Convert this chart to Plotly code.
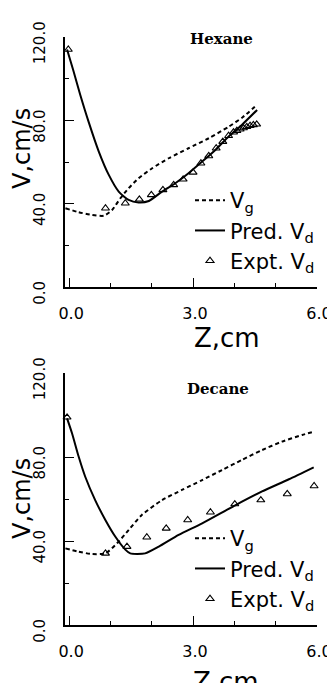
import plotly.graph_objects as go

# ---------------- data ----------------
# Hexane panel
hex_vg_z = [-0.09, 0.23, 0.55, 0.84, 1.04, 1.24, 1.44, 1.68, 2.01, 2.41, 2.89, 3.38, 3.86, 4.20, 4.55]
hex_vg_v = [37.8, 35.9, 34.6, 34.2, 37.0, 42.6, 47.4, 52.2, 57.0, 61.8, 66.6, 71.4, 76.9, 81.5, 87.5]

hex_pred_z = [-0.05, 0.10, 0.27, 0.47, 0.72, 0.96, 1.20, 1.44, 1.68, 1.93, 2.25, 2.57, 2.89, 3.22, 3.54, 3.86, 4.18, 4.55]
hex_pred_v = [114.0, 104.0, 92.2, 79.4, 64.9, 53.8, 45.8, 41.8, 40.6, 41.3, 45.8, 49.8, 54.6, 60.2, 65.8, 72.2, 77.8, 85.0]

hex_expt_z = [-0.02, 0.88, 1.36, 1.70, 1.99, 2.27, 2.53, 2.76, 3.00, 3.19, 3.38, 3.56, 3.72, 3.86,
              3.98, 4.06, 4.14, 4.22, 4.30, 4.38, 4.46, 4.54]
hex_expt_v = [114.0, 37.8, 40.2, 42.1, 44.2, 46.6, 49.0, 51.7, 55.0, 59.4, 62.9, 66.6, 69.8, 72.6,
              74.3, 75.0, 75.7, 76.3, 76.9, 77.4, 77.8, 78.1]

# Decane panel
dec_vg_z = [-0.09, 0.23, 0.55, 0.88, 1.16, 1.44, 1.76, 2.25, 2.73, 3.22, 3.70, 4.18, 4.67, 5.15, 5.64, 5.92]
dec_vg_v = [36.5, 34.9, 33.8, 34.1, 38.9, 45.2, 52.4, 59.5, 64.3, 69.0, 73.8, 78.6, 83.3, 87.3, 90.5, 92.0]

dec_pred_z = [-0.05, 0.07, 0.23, 0.39, 0.63, 0.88, 1.12, 1.36, 1.48, 1.84, 2.17, 2.65, 3.22, 4.02, 4.67, 5.32, 5.92]
dec_pred_v = [98.4, 91.3, 80.2, 70.6, 59.5, 49.9, 42.0, 35.9, 34.1, 34.1, 37.3, 42.9, 48.4, 57.0, 63.6, 69.4, 75.1]

dec_expt_z = [-0.05, 0.88, 1.40, 1.88, 2.35, 2.87, 3.42, 4.01, 4.64, 5.28, 5.93]
dec_expt_v = [98.9, 34.1, 37.3, 41.8, 46.0, 50.0, 53.7, 57.6, 59.5, 62.4, 66.2]

panel_titles = ["Hexane", "Decane"]
series_names = ["V<sub>g</sub>", "Pred. V<sub>d</sub>", "Expt. V<sub>d</sub>"]
x_title = "Z,cm"
y_title = "V,cm/s"
x_ticks = [0.0, 3.0, 6.0]
y_ticks = [0.0, 40.0, 80.0, 120.0]

# ---------------- figure ----------------
W, H = 335, 683
OFF = 8  # the page body adds an 8px margin; positions below are given in window pixels


def px(x):
    return (x - OFF) / W


def py(y):
    return 1 - (y - OFF) / H


fig = go.Figure()

panels = [
    (hex_vg_z, hex_vg_v, hex_pred_z, hex_pred_v, hex_expt_z, hex_expt_v, "x", "y", "legend"),
    (dec_vg_z, dec_vg_v, dec_pred_z, dec_pred_v, dec_expt_z, dec_expt_v, "x2", "y2", "legend2"),
]

for (gz, gv, pz, pv, ez, ev, xa, ya, lg) in panels:
    fig.add_trace(go.Scatter(
        x=gz, y=gv, mode="lines", name=series_names[0], legend=lg,
        xaxis=xa, yaxis=ya,
        line=dict(color="black", width=2, dash="4px,3px", shape="spline", smoothing=0.6),
    ))
    fig.add_trace(go.Scatter(
        x=pz, y=pv, mode="lines", name=series_names[1], legend=lg,
        xaxis=xa, yaxis=ya,
        line=dict(color="black", width=2, shape="spline", smoothing=0.6),
    ))
    fig.add_trace(go.Scatter(
        x=ez, y=ev, mode="markers", name=series_names[2], legend=lg,
        xaxis=xa, yaxis=ya, cliponaxis=False,
        marker=dict(symbol="triangle-up-open", size=7, color="black", line=dict(color="black", width=1.1)),
    ))

tickfont_x = dict(family="DejaVu Sans", size=16, color="black")
tickfont_y = dict(family="DejaVu Sans", size=15, color="black")


def xaxis(domain, anchor):
    return dict(
        domain=domain, anchor=anchor, range=[-0.1, 6.0],
        showline=True, linecolor="black", linewidth=1.5,
        showgrid=False, zeroline=False,
        tickmode="array", tickvals=x_ticks, ticktext=[f"{t:.1f}" for t in x_ticks],
        ticks="inside", ticklen=9, tickwidth=1.2, tickcolor="black",
        minor=dict(ticks="inside", ticklen=4, tickwidth=1, tickcolor="black", tickmode="linear", tick0=0, dtick=1),
        tickfont=tickfont_x, ticklabelstandoff=11, ticklabelshift=2, fixedrange=True, automargin=False,
    )


def yaxis(domain, anchor):
    return dict(
        domain=domain, anchor=anchor, range=[0, 120],
        showline=True, linecolor="black", linewidth=1.5,
        showgrid=False, zeroline=False,
        tickmode="array", tickvals=y_ticks, ticktext=[f"{t:.1f}" for t in y_ticks],
        ticks="inside", ticklen=9, tickwidth=1.2, tickcolor="black",
        minor=dict(ticks="inside", ticklen=4, tickwidth=1, tickcolor="black", tickmode="linear", tick0=0, dtick=20),
        tickfont=tickfont_y, tickangle=-90, ticklabelstandoff=12, ticklabelshift=8,
        fixedrange=True, automargin=False,
    )


legend_common = dict(
    xanchor="left", yanchor="top", bgcolor="rgba(0,0,0,0)", borderwidth=0,
    font=dict(family="DejaVu Sans", size=21, color="black"),
    itemwidth=30, tracegroupgap=0, traceorder="normal",
)

fig.update_layout(
    width=W, height=H, autosize=False,
    margin=dict(l=0, r=0, t=0, b=0, pad=0, autoexpand=False),
    paper_bgcolor="white", plot_bgcolor="white",
    showlegend=True,
    xaxis=xaxis([px(65), px(317)], "y"),
    yaxis=yaxis([py(287), py(37)], "x"),
    xaxis2=xaxis([px(65), px(317)], "y2"),
    yaxis2=yaxis([py(625), py(373)], "x2"),
    legend=dict(x=px(190), y=py(180), **legend_common),
    legend2=dict(x=px(190), y=py(518), **legend_common),
)

ann_font_title = dict(family="DejaVu Sans", size=26, color="black")
ann_font_ytitle = dict(family="DejaVu Sans", size=24, color="black")
panel_font = dict(family="DejaVu Serif", size=15, color="black")

annotations = [
    dict(text=f"<b>{panel_titles[0]}</b>", x=px(221), y=py(39), xref="paper", yref="paper",
         showarrow=False, font=panel_font, xanchor="center", yanchor="middle"),
    dict(text=f"<b>{panel_titles[1]}</b>", x=px(218), y=py(389), xref="paper", yref="paper",
         showarrow=False, font=panel_font, xanchor="center", yanchor="middle"),
    dict(text=y_title, x=px(22), y=py(149), xref="paper", yref="paper", textangle=-90,
         showarrow=False, font=ann_font_ytitle, xanchor="center", yanchor="middle"),
    dict(text=y_title, x=px(22), y=py(499), xref="paper", yref="paper", textangle=-90,
         showarrow=False, font=ann_font_ytitle, xanchor="center", yanchor="middle"),
    dict(text=x_title, x=px(227), y=py(338), xref="paper", yref="paper",
         showarrow=False, font=ann_font_title, xanchor="center", yanchor="middle"),
    dict(text=x_title, x=px(226), y=py(682), xref="paper", yref="paper",
         showarrow=False, font=ann_font_title, xanchor="center", yanchor="middle"),
]
fig.update_layout(annotations=annotations)

fig.write_html("out.html", config={"displayModeBar": False})
